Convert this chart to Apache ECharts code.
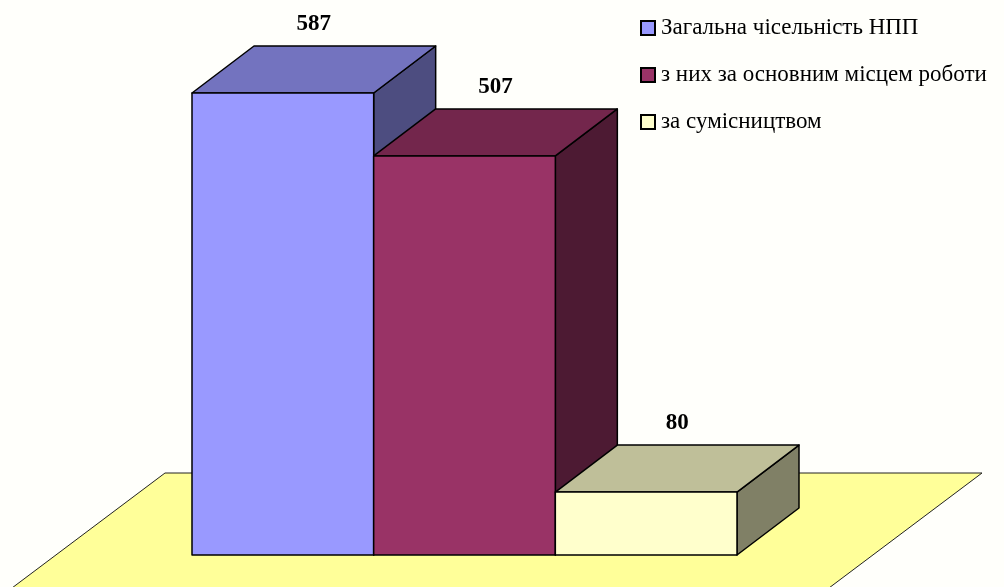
<!DOCTYPE html>
<html>
<head>
<meta charset="utf-8">
<title>НПП</title>
<style>
    html, body {margin: 0; padding: 0; background: #fffffb;}
    #main {width: 1004px; height: 587px;}
</style>
<script src="https://cdn.jsdelivr.net/npm/echarts@6/dist/echarts.min.js"></script>
</head>
<body>
<div id="main"></div>
<script>
    const categories = ['Загальна чісельність НПП', 'з них за основним місцем роботи', 'за сумісництвом'];
    const values = [587, 507, 80];
    const frontColors = ['#9999ff', '#993366', '#ffffcc'];
    const topColors = ['#7373bf', '#73264c', '#bfbf99'];
    const sideColors = ['#4d4d80', '#4d1a33', '#808066'];

    // oblique offset of the back face, px
    const depthX = 62;
    const depthY = -47;

    function renderBox(idx) {
        return function (params, api) {
            const top = api.coord([idx, api.value(1)]);
            const base = api.coord([idx, 0]);
            const w = api.size([1, 0])[0];
            const l = top[0] - w / 2, r = top[0] + w / 2, t = top[1], b = base[1];
            const line = {stroke: '#000', lineWidth: 1.5, lineJoin: 'round'};
            return {
                type: 'group',
                children: [
                    {
                        type: 'polygon',
                        shape: {points: [[r, t], [r + depthX, t + depthY], [r + depthX, b + depthY], [r, b]]},
                        style: Object.assign({fill: sideColors[idx]}, line)
                    },
                    {
                        type: 'polygon',
                        shape: {points: [[l, t], [l + depthX, t + depthY], [r + depthX, t + depthY], [r, t]]},
                        style: Object.assign({fill: topColors[idx]}, line)
                    },
                    {
                        type: 'rect',
                        shape: {x: l, y: t, width: r - l, height: b - t},
                        style: Object.assign({fill: frontColors[idx]}, line)
                    },
                    {
                        type: 'text',
                        style: {
                            x: top[0] + depthX / 2,
                            y: t + depthY - 22,
                            text: String(api.value(1)),
                            fill: '#000',
                            font: 'bold 23px "Liberation Serif"',
                            align: 'center',
                            verticalAlign: 'middle'
                        }
                    }
                ]
            };
        };
    }

    const myChart = echarts.init(document.getElementById('main'));
    myChart.setOption({
        animation: false,
        backgroundColor: '#fffffb',
        textStyle: {fontFamily: 'Liberation Serif'},
        legend: {
            orient: 'vertical',
            left: 635,
            top: 11,
            itemWidth: 14,
            itemHeight: 14,
            itemGap: 23,
            icon: 'rect',
            textStyle: {color: '#000', fontSize: 23, padding: [0, 0, 0, 1], height: 24, lineHeight: 24},
            data: categories
        },
        grid: {left: 192, right: 267, top: 93, bottom: 32},
        xAxis: {type: 'category', data: categories, show: false},
        yAxis: {type: 'value', min: 0, max: 587, show: false},
        graphic: [{
            type: 'polygon',
            z: 0,
            shape: {points: [[165, 473], [982, 473], [813, 600], [-4, 600]]},
            style: {fill: '#ffff99', stroke: '#222', lineWidth: 1}
        }],
        series: categories.map(function (name, i) {
            return {
                name: name,
                type: 'custom',
                clip: false,
                z: 2 + i,
                itemStyle: {color: frontColors[i], borderColor: '#000', borderWidth: 1.5},
                data: [[i, values[i]]],
                encode: {x: 0, y: 1},
                renderItem: renderBox(i)
            };
        })
    });
</script>
</body>
</html>
